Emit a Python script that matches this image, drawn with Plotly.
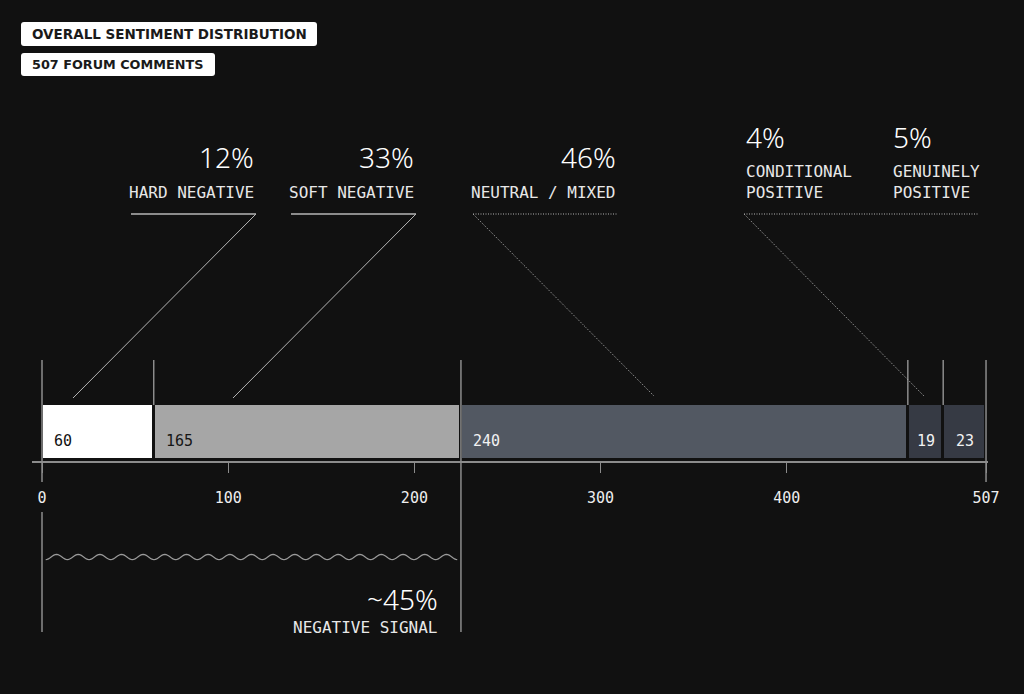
import math
import plotly.graph_objects as go

# ---------------- data ----------------
title_text = "OVERALL SENTIMENT DISTRIBUTION"
subtitle_text = "507 FORUM COMMENTS"
categories = ["HARD NEGATIVE", "SOFT NEGATIVE", "NEUTRAL / MIXED",
              "CONDITIONAL<br>POSITIVE", "GENUINELY<br>POSITIVE"]
counts = [60, 165, 240, 19, 23]
percent_labels = ["12%", "33%", "46%", "4%", "5%"]
tick_values = [0, 100, 200, 300, 400, 507]
tick_labels = ["0", "100", "200", "300", "400", "507"]
negative_share = "~45%"
negative_label = "NEGATIVE SIGNAL"
negative_count = counts[0] + counts[1]

# ---------------- style ----------------
W, H = 1024, 694
BG = "#111111"
PX0 = 42.0          # pixel of value 0
PPU = 1.862         # pixels per comment
MONO = "DejaVu Sans Mono"
SANS = "Noto Sans"
bar_colors = ["#ffffff", "#a6a6a6", "#525862", "#363a44", "#363a44"]
value_colors = ["#111111", "#161616", "#f2f2f2", "#f2f2f2", "#f2f2f2"]
LINE = "#8c8c8c"
LEAD = "#b4b4b4"
DOT = "1px,1.5px"

starts = []
acc = 0
for c in counts:
    starts.append(acc)
    acc += c
ends = [s + c for s, c in zip(starts, counts)]

BAR_TOP, BAR_BOT = 405, 458
AXIS_Y = 462

def px(xp):
    return xp / W

fig = go.Figure()
fig.add_trace(go.Bar(
    orientation="h",
    y=[(BAR_TOP + BAR_BOT) / 2] * len(counts),
    x=counts,
    base=starts,
    width=BAR_BOT - BAR_TOP + 3,
    marker=dict(color=bar_colors, line=dict(color=BG, width=3)),
    hoverinfo="skip",
    showlegend=False,
))

shapes = []
annotations = []

# axis baseline
shapes.append(dict(type="line", xref="paper", yref="y", x0=px(32), x1=px(988),
                   y0=AXIS_Y, y1=AXIS_Y, line=dict(color=LINE, width=2), layer="above"))

# boundary lines
boundaries = [0] + ends
bottoms = [482, 405, 632, 405, 405, 482]
for b, yb in zip(boundaries, bottoms):
    shapes.append(dict(type="line", xref="x", yref="y", x0=b, x1=b, y0=360, y1=yb,
                       line=dict(color=LINE, width=1.5), layer="above"))
# continuation of zero line below its label
shapes.append(dict(type="line", xref="x", yref="y", x0=0, x1=0, y0=512, y1=632,
                   line=dict(color=LINE, width=1.5), layer="above"))

# values inside bars
for s, e, c, col in zip(starts, ends, counts, value_colors):
    if c < 30:
        annotations.append(dict(x=(s + e) / 2, y=441, xref="x", yref="y", text=str(c),
                                showarrow=False, xanchor="center", yanchor="middle",
                                font=dict(family=MONO, size=15, color=col)))
    else:
        annotations.append(dict(x=s, y=441, xref="x", yref="y", text=str(c), xshift=10,
                                showarrow=False, xanchor="left", yanchor="middle",
                                font=dict(family=MONO, size=15, color=col)))

# category callouts (layout positions in pixels)
callouts = [
    dict(i=0, side="right", ax=256, py=157, ly=192, u0=131, u1=256, d0=(256, 214), d1=(73, 398), dot=False),
    dict(i=1, side="right", ax=416, py=157, ly=192, u0=291, u1=416, d0=(416, 214), d1=(233, 398), dot=False),
    dict(i=2, side="right", ax=618, py=157, ly=192, u0=473, u1=618, d0=(473, 214), d1=(654, 396), dot=True),
    dict(i=3, side="left", ax=744, py=137, ly=182, u0=744, u1=978, d0=(744, 214), d1=(925, 397), dot=True),
    dict(i=4, side="left", ax=891, py=137, ly=182, u0=None, u1=None, d0=None, d1=None, dot=True),
]
for co in callouts:
    i = co["i"]
    annotations.append(dict(x=px(co["ax"]), y=co["py"], xref="paper", yref="y",
                            text=percent_labels[i], showarrow=False, xanchor=co["side"],
                            yanchor="middle",
                            font=dict(family=SANS, size=28, color="#ffffff", weight=300)))
    annotations.append(dict(x=px(co["ax"]), y=co["ly"], xref="paper", yref="y",
                            text=categories[i], showarrow=False, xanchor=co["side"],
                            align=co["side"], yanchor="middle",
                            font=dict(family=MONO, size=16, color="#e8e8e8")))
    if co["u0"] is not None:
        if co["dot"]:
            uline = dict(color=LEAD, width=1, dash=DOT)
            dline = dict(color=LEAD, width=1, dash=DOT)
        else:
            uline = dict(color=LINE, width=2)
            dline = dict(color=LEAD, width=1)
        shapes.append(dict(type="line", xref="paper", yref="y", x0=px(co["u0"]), x1=px(co["u1"]),
                           y0=214, y1=214, line=uline))
        shapes.append(dict(type="line", xref="paper", yref="y",
                           x0=px(co["d0"][0]), y0=co["d0"][1], x1=px(co["d1"][0]), y1=co["d1"][1],
                           line=dline))

# wavy bracket spanning the negative share
w0, w1 = 2.0, negative_count - 2.0
periods = 19
pts = []
nseg = periods * 16
for k in range(nseg + 1):
    t = k / nseg
    xv = w0 + (w1 - w0) * t
    yv = 557.0 + 2.6 * math.cos(2 * math.pi * periods * t)
    pts.append(f"{xv:.3f},{yv:.2f}")
path = "M " + " L ".join(pts)
shapes.append(dict(type="path", xref="x", yref="y", path=path,
                   line=dict(color="#9a9a9a", width=1.2)))

annotations.append(dict(x=negative_count, y=599, xref="x", yref="y", xshift=-21,
                        text=negative_share, showarrow=False, xanchor="right", yanchor="middle",
                        font=dict(family=SANS, size=28, color="#ffffff", weight=300)))
annotations.append(dict(x=negative_count, y=627, xref="x", yref="y", xshift=-21,
                        text=negative_label, showarrow=False, xanchor="right", yanchor="middle",
                        font=dict(family=MONO, size=16, color="#e8e8e8")))

# title pills
def pill(x0, y0, x1, y1, r=3):
    return (f"M {px(x0 + r)},{y0} L {px(x1 - r)},{y0} Q {px(x1)},{y0} {px(x1)},{y0 + r} "
            f"L {px(x1)},{y1 - r} Q {px(x1)},{y1} {px(x1 - r)},{y1} L {px(x0 + r)},{y1} "
            f"Q {px(x0)},{y1} {px(x0)},{y1 - r} L {px(x0)},{y0 + r} Q {px(x0)},{y0} {px(x0 + r)},{y0} Z")

for (x0, y0, x1, y1, txt, fs) in [(21, 22, 317, 46, title_text, 13.5),
                                  (21, 53, 215, 76, subtitle_text, 12.8)]:
    shapes.append(dict(type="path", xref="paper", yref="y", path=pill(x0, y0, x1, y1),
                       fillcolor="#ffffff", line=dict(width=0)))
    annotations.append(dict(x=px(x0 + 9), y=(y0 + y1) / 2, xref="paper", yref="y", text=txt,
                            showarrow=False, xanchor="left", yanchor="middle",
                            font=dict(family="DejaVu Sans", size=fs, color="#1a1a1a",
                                      weight="bold")))

fig.update_layout(
    width=W, height=H,
    margin=dict(l=0, r=0, t=0, b=0),
    paper_bgcolor=BG, plot_bgcolor=BG,
    showlegend=False,
    xaxis=dict(range=[-PX0 / PPU, (W - PX0) / PPU], tickvals=tick_values, ticktext=tick_labels,
               ticks="outside", ticklen=10, tickwidth=1, tickcolor=LINE,
               showline=False, showgrid=False, zeroline=False,
               anchor="free", position=(H - AXIS_Y) / H, ticklabelstandoff=12,
               tickfont=dict(family=MONO, size=15, color="#eeeeee"), fixedrange=True),
    yaxis=dict(range=[H, 0], visible=False, fixedrange=True),
    shapes=shapes,
    annotations=annotations,
    bargap=0,
)

fig.write_html("out.html", config={"displayModeBar": False})
